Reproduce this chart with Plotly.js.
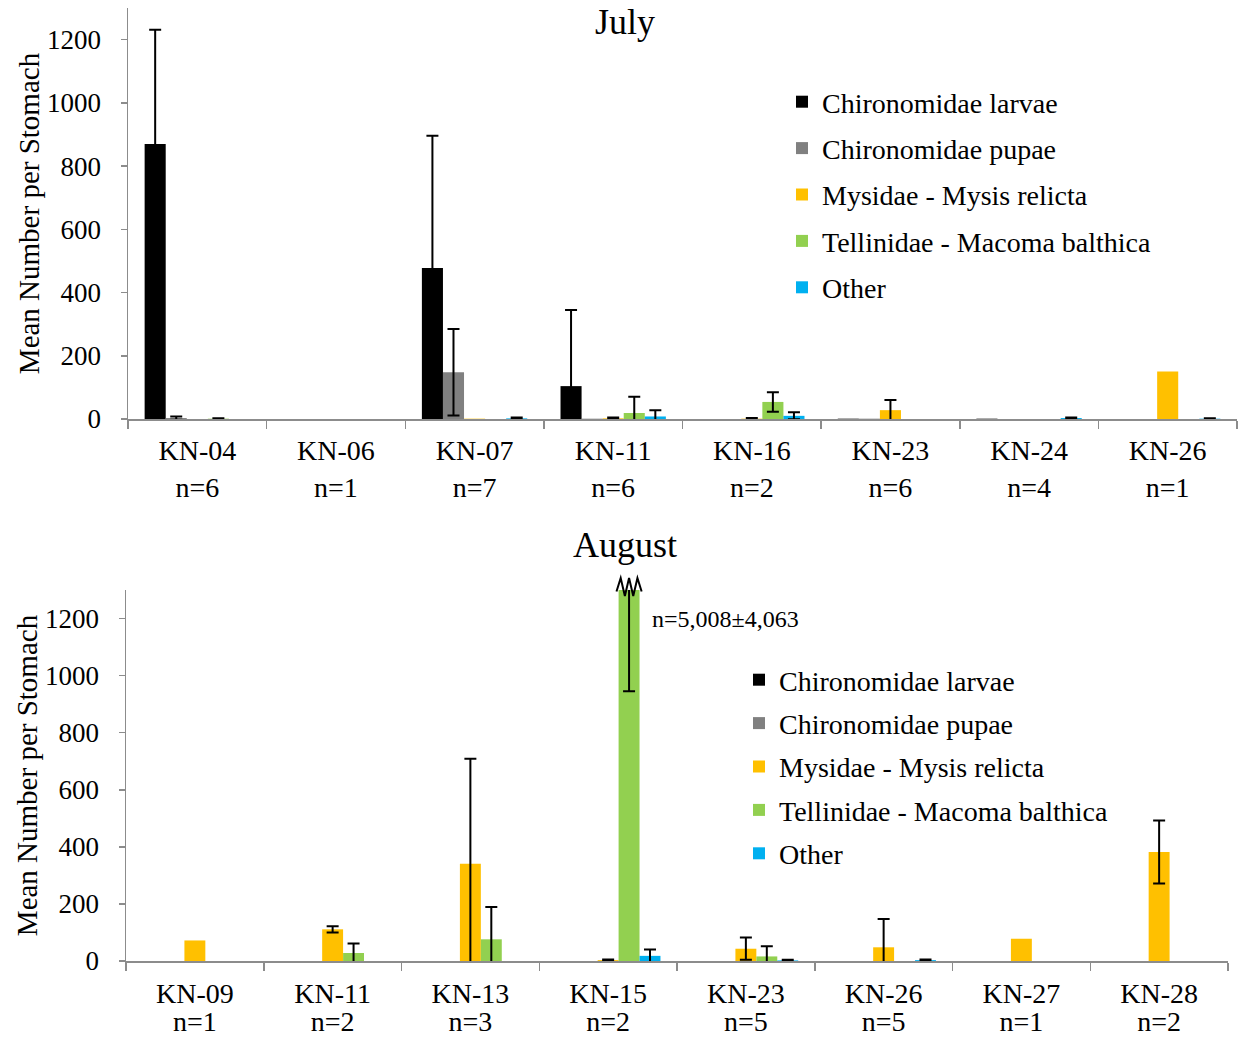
<!DOCTYPE html>
<html>
<head>
<meta charset="utf-8">
<script src="https://cdn.plot.ly/plotly-3.0.1.min.js"></script>
<style>
html,body{margin:0;padding:0;background:#ffffff;}
#chart{width:1238px;height:1038px;}
</style>
</head>
<body>
<div id="chart"></div>
<script>
// ---------- DATA ----------
const seriesNames = ['Chironomidae larvae', 'Chironomidae pupae', 'Mysidae - Mysis relicta', 'Tellinidae - Macoma balthica', 'Other'];
const seriesColors = ['#000000', '#808080', '#FFC000', '#92D050', '#00B0F0'];

// July
const julyStations = ['KN-04', 'KN-06', 'KN-07', 'KN-11', 'KN-16', 'KN-23', 'KN-24', 'KN-26'];
const julyN = [6, 1, 7, 6, 2, 6, 4, 1];
const julyLarvae    = [870, 0, 478, 104, 0, 1, 1, 0];
const julyLarvaeErr = [361, null, 418, 241, null, null, null, null];
const julyPupae     = [3, 0, 148, 1, 0, 1, 0, 0];
const julyPupaeErr  = [5, null, 137, null, null, null, null, null];
const julyMysis     = [0, 0, 1, 2, 1, 28, 0, 150];
const julyMysisErr  = [null, null, null, 3, 2, 32, null, null];
const julyTellin    = [1, 0, 0, 19, 54, 0, 0, 0];
const julyTellinErr = [1, null, null, 51, 31, null, null, null];
const julyOther     = [0, 0, 2, 8, 10, 0, 3, 1];
const julyOtherErr  = [null, null, 3, 20, 11, null, 2, 1];

// August
const augStations = ['KN-09', 'KN-11', 'KN-13', 'KN-15', 'KN-23', 'KN-26', 'KN-27', 'KN-28'];
const augN = [1, 2, 3, 2, 5, 5, 1, 2];
const augLarvae    = [0, 0, 0, 0, 0, 0, 0, 0];
const augLarvaeErr = [null, null, null, null, null, null, null, null];
const augPupae     = [0, 0, 0, 0, 0, 0, 0, 0];
const augPupaeErr  = [null, null, null, null, null, null, null, null];
const augMysis     = [72, 111, 341, 3, 43, 48, 78, 382];
const augMysisErr  = [null, 11, 368, 2, 39, 99, null, 110];
const augTellin    = [0, 28, 76, 5008, 16, 0, 0, 0];
const augTellinErr = [null, 33, 113, 4063, 36, null, null, null];
const augOther     = [0, 0, 0, 18, 2, 3, 0, 0];
const augOtherErr  = [null, null, null, 22, 2, 2, null, null];

const yTickVals = [0, 200, 400, 600, 800, 1000, 1200];
const yMax = 1300;
const brokenStation = 'KN-15';
const brokenSeries = 3;

// ---------- BUILD ----------
const FONT = '"Liberation Serif", "Times New Roman", Times, serif';
const AXIS_COLOR = '#8c8c8c';
const BARGAP = 0.24;

const julyValues = [julyLarvae, julyPupae, julyMysis, julyTellin, julyOther];
const julyErrs = [julyLarvaeErr, julyPupaeErr, julyMysisErr, julyTellinErr, julyOtherErr];
const augValues = [augLarvae, augPupae, augMysis, augTellin, augOther];
const augErrs = [augLarvaeErr, augPupaeErr, augMysisErr, augTellinErr, augOtherErr];

function errArr(a) { return a.map(v => (v === null ? NaN : v)); }

const traces = [];
seriesNames.forEach((name, i) => {
  traces.push({
    type: 'bar', name: name, x: julyStations, y: julyValues[i],
    xaxis: 'x', yaxis: 'y', legend: 'legend', legendgroup: 'jul' + i,
    marker: { color: seriesColors[i], line: { width: 0 } },
    error_y: { type: 'data', array: errArr(julyErrs[i]), visible: true, color: '#000000', thickness: 2, width: 6 },
    hoverinfo: 'x+y+name'
  });
});
seriesNames.forEach((name, i) => {
  traces.push({
    type: 'bar', name: name, x: augStations, y: augValues[i],
    xaxis: 'x2', yaxis: 'y2', legend: 'legend2', legendgroup: 'aug' + i,
    marker: { color: seriesColors[i], line: { width: 0 } },
    error_y: { type: 'data', array: errArr(augErrs[i]), visible: true, color: '#000000', thickness: 2, width: 6 },
    hoverinfo: 'x+y+name'
  });
});

const W = 1238, H = 1038;
const ML = 126, MR = 1;
const PW = W - ML - MR;
const topDomainY = [1 - 419 / H, 1 - 8 / H];
const botDomainY = [1 - 961 / H, 1 - 590 / H];

const julyTickText = julyStations.map((s, i) => s + '<br>n=' + julyN[i]);
const augTickText = augStations.map((s, i) =>
  '<span style="font-size:28px">' + s + '</span><br><span style="font-size:28px">n=' + augN[i] + '</span>');

function xAxis(domain, anchor, cats, text, fontSize, standoff) {
  return {
    domain: domain, anchor: anchor, type: 'category',
    range: [-0.5, cats.length - 0.5],
    tickmode: 'array', tickvals: cats, ticktext: text,
    tickson: 'boundaries', ticks: 'outside', ticklen: 8, tickwidth: 1.5, tickcolor: AXIS_COLOR,
    showline: true, linecolor: AXIS_COLOR, linewidth: 1.5,
    showgrid: false, zeroline: false,
    tickfont: { family: FONT, size: fontSize, color: '#000' },
    ticklabelstandoff: standoff, fixedrange: true
  };
}
function yAxis(domain, anchor) {
  return {
    domain: domain, anchor: anchor, range: [0, yMax],
    tickmode: 'array', tickvals: yTickVals,
    ticks: 'outside', ticklen: 6, tickwidth: 1.5, tickcolor: AXIS_COLOR,
    showline: true, linecolor: AXIS_COLOR, linewidth: 1.5,
    showgrid: false, zeroline: false,
    tickfont: { family: FONT, size: 27, color: '#000' },
    ticklabelstandoff: 14,
    title: { text: 'Mean Number per Stomach', font: { family: FONT, size: 29, color: '#000' } },
    fixedrange: true
  };
}

// broken-bar indicator for the August KN-15 Tellinidae bar
const barW = (1 - BARGAP) / seriesNames.length;
const bIdx = augStations.indexOf(brokenStation);
const bCenter = bIdx + (brokenSeries - (seriesNames.length - 1) / 2) * barW;
const bx0 = bCenter - barW * 0.6, bx1 = bCenter + barW * 0.6;
const yc = botDomainY[1] + 3 / H, amp = 9 / H;
const zig = [];
const nz = 6;
for (let k = 0; k <= nz; k++) {
  const xx = bx0 + (bx1 - bx0) * k / nz;
  const yy = yc + (k % 2 === 0 ? -amp : amp) * (k === 0 || k === nz ? 0.5 : 1);
  zig.push((k === 0 ? 'M' : 'L') + xx.toFixed(4) + ',' + yy.toFixed(4));
}

const layout = {
  width: W, height: H,
  margin: { l: ML, r: MR, t: 0, b: 0 },
  paper_bgcolor: '#ffffff', plot_bgcolor: '#ffffff',
  font: { family: FONT, size: 27, color: '#000000' },
  barmode: 'group', bargap: BARGAP, bargroupgap: 0,
  showlegend: true,
  xaxis: xAxis([2 / PW, 1], 'y', julyStations, julyTickText, 28, 6),
  yaxis: yAxis(topDomainY, 'x'),
  xaxis2: xAxis([0, (1228 - ML) / PW], 'y2', augStations, augTickText, 21.5, 15),
  yaxis2: yAxis(botDomainY, 'x2'),
  legend: {
    x: (822 - 40 - ML) / PW, y: 1 - 77 / H, xanchor: 'left', yanchor: 'top',
    bgcolor: 'rgba(0,0,0,0)', borderwidth: 0,
    font: { family: FONT, size: 28, color: '#000' }, tracegroupgap: 7, traceorder: 'grouped'
  },
  legend2: {
    x: (779 - 40 - ML) / PW, y: 1 - 655 / H, xanchor: 'left', yanchor: 'top',
    bgcolor: 'rgba(0,0,0,0)', borderwidth: 0,
    font: { family: FONT, size: 28, color: '#000' }, tracegroupgap: 4, traceorder: 'grouped'
  },
  annotations: [
    { text: 'July', xref: 'paper', yref: 'paper', x: (625 - ML) / PW, y: 1 - 22 / H,
      xanchor: 'center', yanchor: 'middle', showarrow: false, font: { family: FONT, size: 36, color: '#000' } },
    { text: 'August', xref: 'paper', yref: 'paper', x: (625 - ML) / PW, y: 1 - 545 / H,
      xanchor: 'center', yanchor: 'middle', showarrow: false, font: { family: FONT, size: 36, color: '#000' } },
    { text: 'n=' + augTellin[bIdx].toLocaleString('en-US') + '±' + augTellinErr[bIdx].toLocaleString('en-US'),
      xref: 'x2', yref: 'y2', x: brokenStation, y: 1200, xanchor: 'left', yanchor: 'middle', xshift: 42,
      showarrow: false, font: { family: FONT, size: 24, color: '#000' } }
  ],
  shapes: [
    { type: 'path', xref: 'x2', yref: 'paper', path: zig.join(' '),
      line: { color: '#000000', width: 2 }, layer: 'above' }
  ]
};

Plotly.newPlot('chart', traces, layout, { displayModeBar: false, staticPlot: true });
</script>
</body>
</html>
